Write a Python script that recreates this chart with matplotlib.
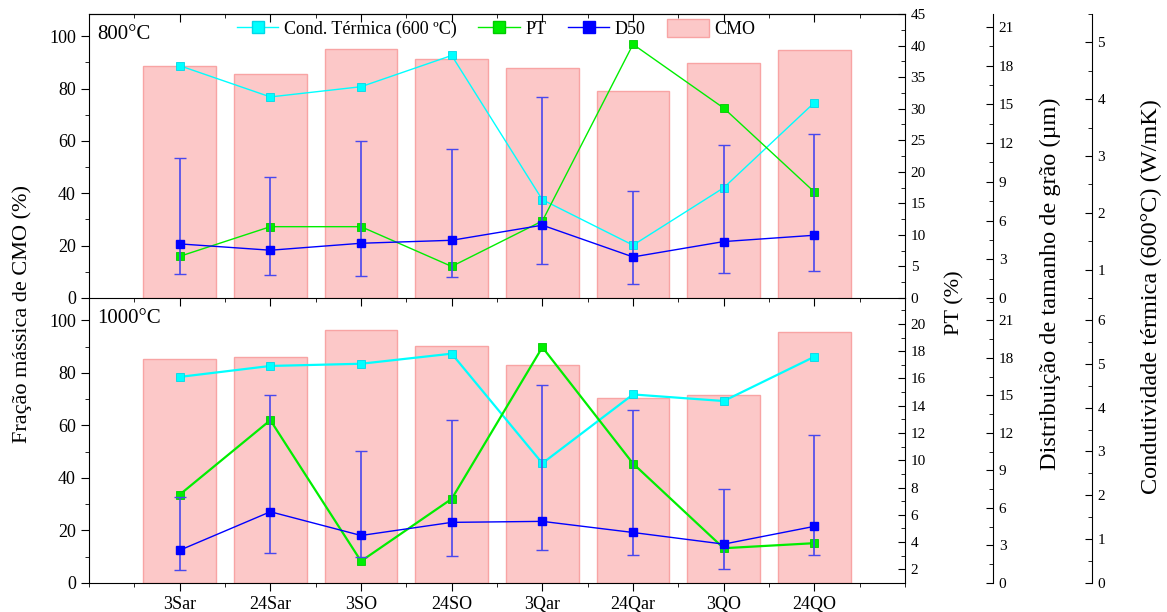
import matplotlib.pyplot as plt
import numpy as np
from matplotlib.ticker import MultipleLocator
from matplotlib.lines import Line2D
from matplotlib.patches import Patch

plt.rcParams['font.family'] = ['Liberation Serif', 'DejaVu Serif']

amostras = ['3Sar', '24Sar', '3SO', '24SO', '3Qar', '24Qar', '3QO', '24QO']

# 800 ºC
cmo_800 = [88.5, 85.4, 95.3, 91.3, 87.7, 79.0, 89.7, 94.8]
cond_800 = [4.59, 4.04, 4.22, 4.77, 2.23, 1.43, 2.44, 3.94]
pt_800 = [6.6, 11.3, 11.3, 5.0, 12.2, 40.2, 30.1, 16.8]
d50_800 = [4.19, 3.70, 4.24, 4.47, 5.64, 3.18, 4.37, 4.86]
d50_800_min = [1.89, 1.76, 1.71, 1.60, 2.64, 1.06, 1.94, 2.07]
d50_800_max = [10.85, 9.38, 12.17, 11.58, 15.58, 8.29, 11.86, 12.74]

# 1000 ºC
cmo_1000 = [85.1, 86.1, 96.2, 90.3, 83.1, 70.5, 71.5, 95.5]
cond_1000 = [4.70, 4.95, 5.00, 5.23, 2.73, 4.30, 4.15, 5.16]
pt_1000 = [7.48, 12.94, 2.60, 7.17, 18.29, 9.76, 3.55, 3.92]
d50_1000 = [2.62, 5.70, 3.80, 4.85, 4.93, 4.04, 3.11, 4.53]
d50_1000_min = [1.02, 2.36, 2.09, 2.17, 2.62, 2.25, 1.08, 2.22]
d50_1000_max = [6.85, 15.04, 10.59, 13.03, 15.81, 13.84, 7.50, 11.85]

C_CYAN = '#00ffff'
C_GREEN = '#00ee00'
C_BLUE = '#0000ff'
C_BAR = '#fcc8c8'
C_BAR_EDGE = '#f8a4a4'

fig = plt.figure(figsize=(11.67, 6.12), dpi=100)
ax_top = fig.add_axes([0.0763, 0.5131, 0.6992, 0.4640])
ax_bot = fig.add_axes([0.0763, 0.0474, 0.6992, 0.4657])
ax_bot.patch.set_visible(False)

x = np.arange(len(amostras))


def painel(ax, cmo, cond, pt, d50, dmin, dmax, titulo,
           pt_lim, pt_step, grao_lim, cond_lim, lw, fundo):
    ax.bar(x, cmo, width=0.8, color=C_BAR, edgecolor=C_BAR_EDGE, linewidth=1)
    ax.set_xlim(-1, 8)
    ax.set_ylim(0, 108.5)
    ax.yaxis.set_major_locator(MultipleLocator(20))
    ax.yaxis.set_minor_locator(MultipleLocator(10))
    ax.set_xticks(x)
    ax.xaxis.set_minor_locator(MultipleLocator(0.5))
    ax.tick_params(axis='y', which='major', direction='out', length=6, labelsize=13, right=False)
    ax.tick_params(axis='y', which='minor', direction='out', length=3, right=False)
    ax.tick_params(axis='x', which='major', direction='out', length=6, labelsize=13, top=False)
    ax.tick_params(axis='x', which='minor', direction='out', length=3, top=False)
    ax.spines['right'].set_visible(False)
    if fundo:
        ax.set_xticklabels(amostras)
        ax.spines['top'].set_visible(False)
    else:
        ax.set_xticklabels([])
        sec = ax.secondary_xaxis('top')
        sec.set_xticks(x)
        sec.set_xticklabels([])
        sec.xaxis.set_minor_locator(MultipleLocator(0.5))
        sec.tick_params(which='major', direction='in', length=6)
        sec.tick_params(which='minor', direction='in', length=3)
    ax.text(0.01, 0.96, titulo, transform=ax.transAxes, fontsize=15, va='top', ha='left')

    # condutividade termica
    ax_c = ax.twinx()
    ax_c.spines['right'].set_position(('axes', 1.229))
    ax_c.plot(x, cond, color=C_CYAN, lw=lw, marker='s', ms=5.5,
              markerfacecolor=C_CYAN, markeredgecolor='#00d8e8', mew=0.6)
    ax_c.set_ylim(*cond_lim)
    ax_c.yaxis.set_major_locator(MultipleLocator(1))
    ax_c.yaxis.set_minor_locator(MultipleLocator(0.5))

    # PT
    ax_p = ax.twinx()
    ax_p.plot(x, pt, color=C_GREEN, lw=lw, marker='s', ms=5.5,
              markerfacecolor=C_GREEN, markeredgecolor='#00cc00', mew=0.6)
    ax_p.set_ylim(*pt_lim)
    ax_p.yaxis.set_major_locator(MultipleLocator(pt_step))
    ax_p.yaxis.set_minor_locator(MultipleLocator(pt_step / 2))

    # D50
    ax_g = ax.twinx()
    ax_g.spines['right'].set_position(('axes', 1.108))
    d50 = np.array(d50)
    yerr = [d50 - np.array(dmin), np.array(dmax) - d50]
    ax_g.errorbar(x, d50, yerr=yerr, color=C_BLUE, lw=1, marker='s', ms=6,
                  ecolor='#4848ee', elinewidth=1.2, capsize=4, capthick=1)
    ax_g.set_ylim(*grao_lim)
    ax_g.yaxis.set_major_locator(MultipleLocator(3))
    ax_g.yaxis.set_minor_locator(MultipleLocator(1.5))

    for a in (ax_c, ax_p, ax_g):
        for s in ('top', 'bottom', 'left'):
            a.spines[s].set_visible(False)
        a.tick_params(axis='y', which='major', direction='in', length=5, labelsize=11, pad=4)
        a.tick_params(axis='y', which='minor', direction='in', length=3)


painel(ax_top, cmo_800, cond_800, pt_800, d50_800, d50_800_min, d50_800_max,
       '800°C', (0, 45), 5, (0, 22), (0.5, 5.5), 1.0, False)
painel(ax_bot, cmo_1000, cond_1000, pt_1000, d50_1000, d50_1000_min, d50_1000_max,
       '1000°C', (1, 21.9), 2, (0, 22.8), (0, 6.5), 1.6, True)

handles = [
    Line2D([], [], color=C_CYAN, lw=1, marker='s', ms=8, markeredgecolor='#00d8e8'),
    Line2D([], [], color=C_GREEN, lw=1, marker='s', ms=8, markeredgecolor='#00cc00'),
    Line2D([], [], color=C_BLUE, lw=1, marker='s', ms=8),
    Patch(facecolor=C_BAR, edgecolor=C_BAR_EDGE),
]
labels = ['Cond. Térmica (600 ºC)', 'PT', 'D50', 'CMO']
fig.legend(handles, labels, loc='center left', bbox_to_anchor=(0.189, 0.953), ncol=4,
           frameon=False, fontsize=13, handlelength=2.3, handletextpad=0.3,
           columnspacing=1.2, handleheight=1.1)

fig.text(0.019, 0.487, 'Fração mássica de CMO (%)', rotation=90, fontsize=16,
         ha='center', va='center')
fig.text(0.818, 0.505, 'PT (%)', rotation=90, fontsize=16, ha='center', va='center')
fig.text(0.900, 0.536, 'Distribuição de tamanho de grão (µm)', rotation=90, fontsize=17.5,
         ha='center', va='center')
fig.text(0.987, 0.515, 'Condutividade térmica (600°C) (W/mK)', rotation=90, fontsize=17.5,
         ha='center', va='center')

fig.savefig('out.png', dpi=100)
